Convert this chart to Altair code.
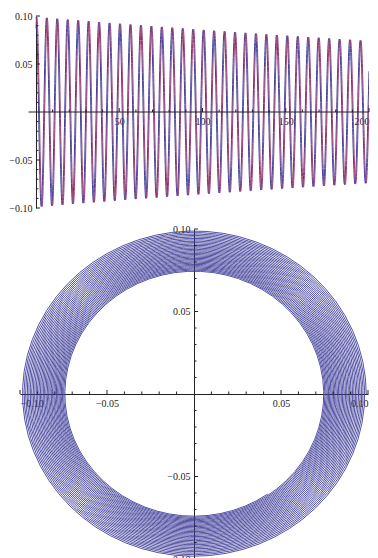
import altair as alt
import numpy as np
import pandas as pd

# ---- values ----
T_END = 200.0          # time axis runs 0 .. 200
AMP_START = 0.099      # peak height at t = 0
AMP_END = 0.074        # peak height at t = 200
PERIOD = 6.28          # one cycle about every 10.5 px (~2*pi)
RED_LAG = 0.5          # red curve trails the blue one by ~1.3 px (~0.5 rad)
SAMPLE_STEP = 0.1

series_names = ["x", "y"]
top_x_labels = [50, 100, 150, 200]
top_x_minor = [10, 20, 30, 40, 60, 70, 80, 90, 110, 120, 130, 140, 160, 170, 180, 190]
y_labels = [-0.10, -0.05, 0.05, 0.10]
minor_hundredths = [-0.09, -0.08, -0.07, -0.06, -0.04, -0.03, -0.02, -0.01,
                    0.01, 0.02, 0.03, 0.04, 0.06, 0.07, 0.08, 0.09]
top_axis_extent = [-4.5, 200.0]

BLUE = "#3e3d99"
RED = "#993d74"
AXIS = "#222222"
FONT = "Liberation Serif"

# ---- curves ----
t = np.arange(0.0, T_END + SAMPLE_STEP / 2, SAMPLE_STEP)
gamma = np.log(AMP_START / AMP_END) / T_END
env = AMP_START * np.exp(-gamma * t)
w = 2 * np.pi / PERIOD
blue_v = env * np.cos(w * t)
red_v = env * np.cos(w * t - RED_LAG)
ring_x = env * np.cos(w * t)
ring_y = env * np.sin(w * t)

df_top = pd.DataFrame({
    "t": np.concatenate([t, t]),
    "v": np.concatenate([blue_v, red_v]),
    "s": [series_names[0]] * len(t) + [series_names[1]] * len(t),
})
df_ring = pd.DataFrame({"t": t, "x": ring_x, "y": ring_y})

# ---- layout ----
W1, H1 = 349, 192
T_MIN = -9.6
px_t0 = (0 - T_MIN) / (T_END - T_MIN) * W1
W2, H2 = 348, 330

top_xscale = alt.Scale(domain=[T_MIN, T_END], nice=False, zero=False)
top_yscale = alt.Scale(domain=[-0.1, 0.1], nice=False)
top_xaxis = alt.Axis(values=top_x_labels, offset=-H1 / 2, ticks=False, domain=False,
                     grid=False, title=None, labelPadding=4, format="d")
top_yaxis = alt.Axis(values=y_labels, offset=-px_t0, ticks=False, domain=True,
                     grid=False, title=None, labelPadding=4, format=".2f")

top_lines = alt.Chart(df_top).mark_line(strokeWidth=1, clip=True).encode(
    x=alt.X("t:Q", scale=top_xscale, axis=top_xaxis),
    y=alt.Y("v:Q", scale=top_yscale, axis=top_yaxis),
    color=alt.Color("s:N", scale=alt.Scale(domain=series_names, range=[BLUE, RED]), legend=None),
)

top_xline = alt.Chart(pd.DataFrame({"a": [top_axis_extent[0]], "b": [top_axis_extent[1]]})).mark_rule(
    color=AXIS, strokeWidth=1).encode(
    x=alt.X("a:Q", scale=top_xscale, axis=top_xaxis), x2="b:Q", y=alt.datum(0))

df_txmaj = pd.DataFrame({"t": top_x_labels})
df_txmin = pd.DataFrame({"t": top_x_minor})
top_xmaj = alt.Chart(df_txmaj).mark_rule(color=AXIS, strokeWidth=1, y2Offset=-4).encode(
    x=alt.X("t:Q", scale=top_xscale, axis=top_xaxis), y=alt.datum(0), y2=alt.datum(0))
top_xmin = alt.Chart(df_txmin).mark_rule(color=AXIS, strokeWidth=1, y2Offset=-2.5).encode(
    x=alt.X("t:Q", scale=top_xscale, axis=top_xaxis), y=alt.datum(0), y2=alt.datum(0))

df_ymaj = pd.DataFrame({"v": y_labels})
df_ymin = pd.DataFrame({"v": minor_hundredths})
top_ymaj = alt.Chart(df_ymaj).mark_rule(color=AXIS, strokeWidth=1, x2Offset=4).encode(
    y=alt.Y("v:Q", scale=top_yscale, axis=top_yaxis), x=alt.datum(0), x2=alt.datum(0))
top_ymin = alt.Chart(df_ymin).mark_rule(color=AXIS, strokeWidth=1, x2Offset=2.5).encode(
    y=alt.Y("v:Q", scale=top_yscale, axis=top_yaxis), x=alt.datum(0), x2=alt.datum(0))

top = alt.layer(top_lines, top_xline, top_xmin, top_xmaj, top_ymin, top_ymaj).properties(
    width=W1, height=H1)

# ---- bottom: phase portrait ----
bx = alt.Scale(domain=[-0.1, 0.1], nice=False)
by = alt.Scale(domain=[-0.1, 0.1], nice=False)
bxaxis = alt.Axis(values=y_labels, offset=-H2 / 2, ticks=False, domain=True,
                  grid=False, title=None, labelPadding=4, format=".2f")
byaxis = alt.Axis(values=y_labels, offset=-W2 / 2, ticks=False, domain=True,
                  grid=False, title=None, labelPadding=4, format=".2f", labelFlush=False)

ring = alt.Chart(df_ring).mark_line(strokeWidth=0.9, color=BLUE, clip=True).encode(
    x=alt.X("x:Q", scale=bx, axis=bxaxis),
    y=alt.Y("y:Q", scale=by, axis=byaxis),
    order="t:Q",
)
df_bmaj = pd.DataFrame({"p": y_labels})
df_bmin = pd.DataFrame({"p": minor_hundredths})
b_xmaj = alt.Chart(df_bmaj).mark_rule(color=AXIS, strokeWidth=1, y2Offset=-4).encode(
    x=alt.X("p:Q", scale=bx, axis=bxaxis), y=alt.datum(0), y2=alt.datum(0))
b_xmin = alt.Chart(df_bmin).mark_rule(color=AXIS, strokeWidth=1, y2Offset=-2.5).encode(
    x=alt.X("p:Q", scale=bx, axis=bxaxis), y=alt.datum(0), y2=alt.datum(0))
b_ymaj = alt.Chart(df_bmaj).mark_rule(color=AXIS, strokeWidth=1, x2Offset=4).encode(
    y=alt.Y("p:Q", scale=by, axis=byaxis), x=alt.datum(0), x2=alt.datum(0))
b_ymin = alt.Chart(df_bmin).mark_rule(color=AXIS, strokeWidth=1, x2Offset=2.5).encode(
    y=alt.Y("p:Q", scale=by, axis=byaxis), x=alt.datum(0), x2=alt.datum(0))

bottom = alt.layer(ring, b_xmin, b_xmaj, b_ymin, b_ymaj).properties(width=W2, height=H2)

chart = alt.vconcat(top, bottom, spacing=11).properties(
    padding={"left": 0, "top": 3, "right": 0, "bottom": 0}
).configure_view(stroke=None).configure_axis(
    labelFont=FONT, labelFontSize=10, labelColor=AXIS, domainColor=AXIS, domainWidth=1
)

chart.save("out.html", embed_options={"renderer": "svg", "actions": False})
